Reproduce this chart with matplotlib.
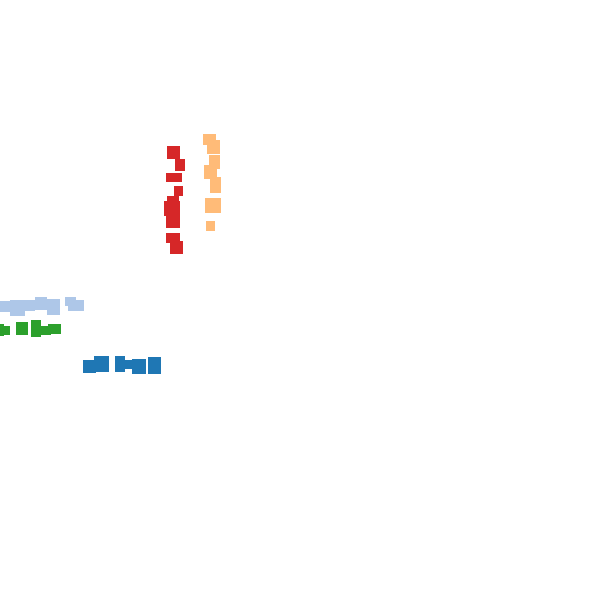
import matplotlib
matplotlib.use("Agg")
import matplotlib.pyplot as plt

# Each series: left x, top y, width, height of every block (chart units, 0-600)
series_colors = ["#d62728", "#ffbb78", "#aec7e8", "#2ca02c", "#1f77b4"]

red_x = [167, 175, 166, 174, 167, 164, 166, 166, 170]
red_y = [146, 159, 173, 186, 196, 201, 216, 233, 241]
red_w = [13, 10, 16, 9, 12, 16, 14, 14, 13]
red_h = [13, 12, 9, 10, 6, 15, 12, 10, 13]

orange_x = [203, 207, 209, 204, 210, 205, 206]
orange_y = [134, 140, 155, 165, 177, 198, 221]
orange_w = [13, 13, 11, 13, 11, 16, 9]
orange_h = [11, 14, 14, 14, 16, 15, 10]

lblue_x = [0, 10, 25, 35, 47, 65, 68]
lblue_y = [301, 300, 300, 297, 299, 297, 300]
lblue_w = [11, 15, 10, 12, 13, 11, 16]
lblue_h = [11, 16, 11, 13, 16, 9, 11]

green_x = [0, 3, 16, 31, 41, 48]
green_y = [324, 326, 322, 320, 326, 324]
green_w = [4, 7, 12, 10, 10, 13]
green_h = [12, 9, 13, 17, 9, 10]

blue_x = [83, 94, 115, 124, 132, 148]
blue_y = [360, 356, 356, 360, 359, 357]
blue_w = [13, 15, 10, 10, 14, 13]
blue_h = [13, 16, 16, 9, 15, 17]

groups = [
    (red_x, red_y, red_w, red_h),
    (orange_x, orange_y, orange_w, orange_h),
    (lblue_x, lblue_y, lblue_w, lblue_h),
    (green_x, green_y, green_w, green_h),
    (blue_x, blue_y, blue_w, blue_h),
]

fig = plt.figure(figsize=(6, 6), dpi=100)
ax = fig.add_axes([0, 0, 1, 1])

for (xs, ys, ws, hs), color in zip(groups, series_colors):
    ax.bar(xs, hs, width=ws, bottom=ys, align="edge", color=color, linewidth=0)

ax.set_xlim(0, 600)
ax.set_ylim(600, 0)
ax.axis("off")

fig.savefig("out.png", dpi=100, facecolor="white")
